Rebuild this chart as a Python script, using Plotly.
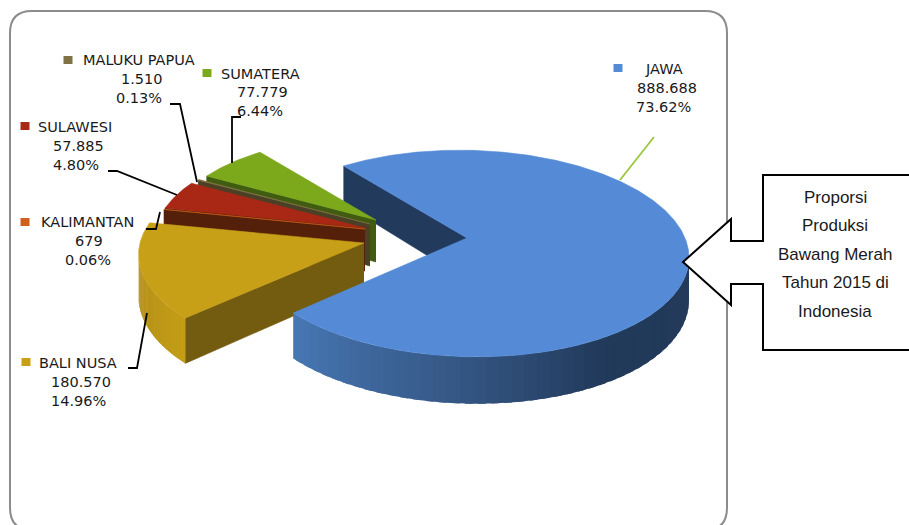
import numpy as np
import plotly.graph_objects as go

# Produksi per pulau, in pie order (clockwise from the start angle)
names = ["JAWA", "BALI NUSA", "KALIMANTAN", "SULAWESI", "MALUKU PAPUA", "SUMATERA"]
values = [888688, 180570, 679, 57885, 1510, 77779]
value_labels = ["888.688", "180.570", "679", "57.885", "1.510", "77.779"]
pct_labels = ["73.62%", "14.96%", "0.06%", "4.80%", "0.13%", "6.44%"]
callout_lines = ["Proporsi", "Produksi", "Bawang Merah", "Tahun 2015 di", "Indonesia"]

top_colors = ["#558bd6", "#c8a017", "#d0601a", "#a92815", "#7f7245", "#7ca81c"]
wall_colors = ["#223a5c", "#735c0f", "#54200a", "#54200a", "#4a4026", "#3f5c10"]

# exploded slice geometry: apex x, apex y, radius x, radius y
geom = {
    "JAWA": (467, 238, 218, 101),
    "BALI NUSA": (364, 243, 224, 101),
    "KALIMANTAN": (365, 229, 210, 98),
    "SULAWESI": (365, 228, 209, 98),
    "MALUKU PAPUA": (370, 224, 207, 96),
    "SUMATERA": (376, 220, 205, 95),
}
START = -37
PERSP = 0.15
SKEW = 0.085
LEFT_EXTREME = 261.4
RIGHT_EXTREME = 98.6


def project(name, theta):
    cx, cy, rx, ry = geom[name]
    t = np.radians(theta)
    den = 1 + PERSP * np.cos(t)
    dy = -ry * np.cos(t) / den
    dx = rx * np.sin(t) / den + SKEW * dy
    return cx + dx, cy + dy


def depth(theta):
    return 42 - 5 * np.cos(np.radians(theta))


fig = go.Figure()


def poly(xs, ys, color, line=0.6):
    fig.add_trace(go.Scatter(
        x=list(xs), y=list(ys), mode="lines", fill="toself", fillcolor=color,
        line=dict(color=color, width=line), hoverinfo="skip", showlegend=False,
    ))


def mix(stops, f):
    rgb = [np.interp(f, [s[0] for s in stops], [s[1][i] for s in stops]) for i in range(3)]
    return "rgb(%d,%d,%d)" % tuple(rgb)


def edge_wall(name, theta, color):
    cx, cy = geom[name][:2]
    ox, oy = project(name, theta)
    d = depth(theta)
    poly([cx, ox, ox, cx], [cy, oy, oy + d, cy + 42], color)


def outer_wall(name, t0, t1, stops):
    # segments overlap their neighbour so no seams show in the gradient
    ts = np.linspace(t0, t1, 45)
    step = ts[1] - ts[0]
    for a in ts[:-1]:
        b = a + step * 1.6 if a + step * 1.6 < max(t0, t1) else ts[-1]
        xa, ya = project(name, a)
        xb, yb = project(name, b)
        poly([xa, xb, xb, xa], [ya, yb, yb + depth(b), ya + depth(a)],
             mix(stops, a + step / 2), line=0)


def top_face(name, t0, t1, color):
    cx, cy = geom[name][:2]
    ts = np.linspace(t0, t1, max(3, int(abs(t1 - t0)) * 2))
    xs, ys = project(name, ts)
    poly([cx, *xs, cx], [cy, *ys, cy], color)


angles = START + np.concatenate([[0], np.cumsum(values)]) / sum(values) * 360
jawa0, jawa1 = angles[0], angles[1]

# navy cut face of Jawa sits behind everything else
edge_wall("JAWA", jawa0, wall_colors[0])

# back to front: Sumatera first, Bali Nusa last
for i in [5, 4, 3, 2, 1]:
    edge_wall(names[i], angles[i], wall_colors[i])
    if names[i] == "BALI NUSA":
        outer_wall(names[i], angles[i], LEFT_EXTREME,
                   [(angles[i], (196, 158, 24)), (LEFT_EXTREME, (176, 140, 22))])
    top_face(names[i], angles[i], angles[i + 1], top_colors[i])

outer_wall("JAWA", RIGHT_EXTREME, jawa1,
           [(RIGHT_EXTREME, (36, 58, 90)), (150, (34, 58, 91)), (190, (56, 92, 140)), (jawa1, (72, 120, 181))])
top_face("JAWA", jawa0, jawa1, top_colors[0])

frame = ("M 32,11 L 705,11 Q 727,11 727,33 L 727,508 Q 727,530 705,530 L 32,530 "
         "Q 10,530 10,508 L 10,33 Q 10,11 32,11 Z")
callout = ("M 683,262 L 731,219 L 731,241 L 763,241 L 763,175 L 915,175 L 915,350 "
           "L 763,350 L 763,284 L 731,284 L 731,305 Z")
shapes = [
    dict(type="path", path=frame, line=dict(color="#8c8c8c", width=2), fillcolor="white", layer="below"),
    dict(type="path", path=callout, line=dict(color="black", width=2), fillcolor="white", layer="above"),
]

leaders = [
    ("M 654,137 L 620,180", "#9bc63b"),
    ("M 128,368 L 137,368 L 147,313", "black"),
    ("M 146,229 L 156,229 L 160,212", "black"),
    ("M 108,171 L 117,171 L 177,195", "black"),
    ("M 170,104 L 180,104 L 197,182", "black"),
    ("M 241,117 L 232,117 L 232,163", "black"),
]
for path, color in leaders:
    shapes.append(dict(type="path", path=path, line=dict(color=color, width=1.8), layer="above"))

# legend key centre, then centre x and y of the three text rows
label_pos = {
    "JAWA": ((618, 68), [(664, 69), (667, 88), (663, 107)]),
    "BALI NUSA": ((26, 362), [(78, 363), (81, 382), (78, 401)]),
    "KALIMANTAN": ((25, 222), [(87, 222), (89, 241), (88, 260)]),
    "SULAWESI": ((25, 126), [(75, 127), (78, 146), (76, 165)]),
    "MALUKU PAPUA": ((68, 60), [(139, 60), (142, 79), (139, 98)]),
    "SUMATERA": ((207, 73), [(260, 74), (262, 92), (260, 111)]),
}
annotations = []
for i, name in enumerate(names):
    key, rows = label_pos[name]
    shapes.append(dict(type="rect", x0=key[0] - 4.5, x1=key[0] + 4.5, y0=key[1] - 4, y1=key[1] + 4,
                       fillcolor=top_colors[i], line=dict(width=0), layer="above"))
    for text, (tx, ty) in zip([name, value_labels[i], pct_labels[i]], rows):
        annotations.append(dict(x=tx, y=ty, text=text, showarrow=False, xanchor="center", yanchor="middle",
                                font=dict(family="DejaVu Sans", size=14.5, color="#1a1a1a")))

for k, line in enumerate(callout_lines):
    annotations.append(dict(x=835, y=197 + k * 28.5, text=line, showarrow=False, xanchor="center", yanchor="middle",
                            font=dict(family="Liberation Sans", size=17, color="#1a1a1a")))

fig.update_layout(
    width=909, height=525, margin=dict(l=0, r=0, t=0, b=0),
    paper_bgcolor="white", plot_bgcolor="white", showlegend=False,
    xaxis=dict(range=[0, 909], visible=False, fixedrange=True),
    yaxis=dict(range=[525, 0], visible=False, fixedrange=True),
    shapes=shapes, annotations=annotations,
)
fig.write_html("out.html", post_script="document.body.style.margin='0';document.body.style.overflow='hidden';",
               config=dict(displayModeBar=False))
